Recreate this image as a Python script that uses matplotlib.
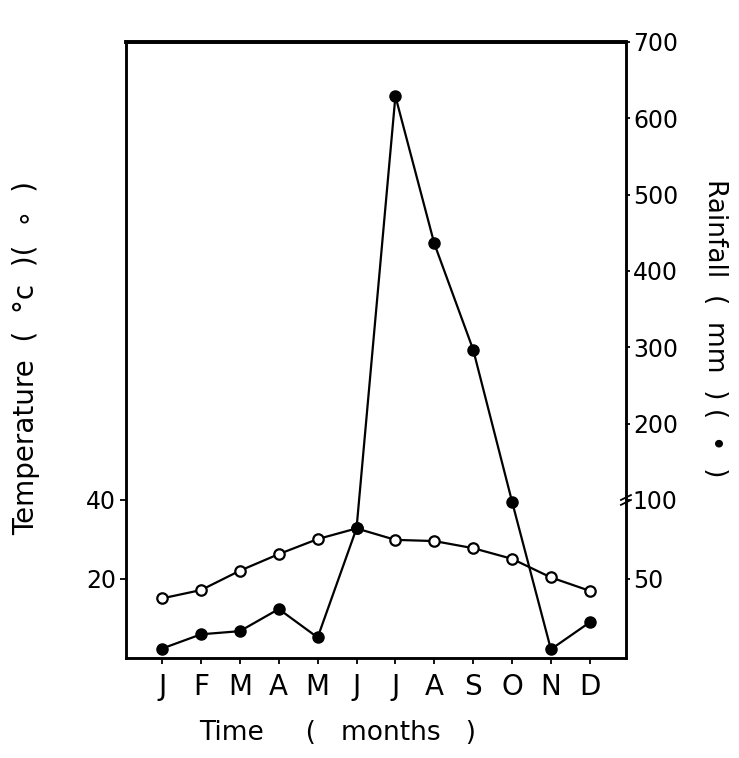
import matplotlib
matplotlib.use("Agg")
import matplotlib.pyplot as plt
import numpy as np

# monthly climate data
months = ["J", "F", "M", "A", "M", "J", "J", "A", "S", "O", "N", "D"]
temperature = [15.1, 17.2, 22.1, 26.3, 30.1, 32.8, 29.9, 29.6, 27.8, 25.1, 20.4, 17.0]  # deg C, open circles
rainfall = [6, 15, 17, 31, 13, 82, 629, 436, 297, 99, 5.5, 22.6]  # mm, filled circles

temp_ticks = [20, 40]
rain_ticks = [50, 100, 200, 300, 400, 500, 600, 700]

# rainfall axis is broken at 100 mm: 0-100 lines up with 0-40 deg C,
# above 100 the scale is compressed
T_TOP = 155.9
K_UP = (T_TOP - 40) / 600.0


def rain_fwd(r):
    r = np.asarray(r, dtype=float)
    return np.where(r <= 100, 0.4 * r, 40 + (r - 100) * K_UP)


def rain_inv(t):
    t = np.asarray(t, dtype=float)
    return np.where(t <= 40, t / 0.4, 100 + (t - 40) / K_UP)


plt.rcParams["font.family"] = ["DejaVu Sans"]

fig = plt.figure(figsize=(7.39, 7.58), dpi=100)
ax = fig.add_axes([0.1705, 0.1319, 0.6765, 0.8127])
x = np.arange(len(months))

ax.plot(x, temperature, color="black", lw=1.6, marker="o", ms=7.5,
        mfc="white", mec="black", mew=1.6, zorder=3)
ax.set_xlim(-0.93, 11.93)
ax.set_ylim(0, T_TOP)
ax.set_yticks(temp_ticks)
ax.set_yticklabels([str(t) for t in temp_ticks], fontsize=17)
ax.set_xticks(x)
ax.set_xticklabels(months, fontsize=20)
ax.tick_params(axis="x", direction="out", length=4, width=1.3, pad=7)
ax.tick_params(axis="y", direction="out", length=4, width=1.3, pad=3)
for side, sp in ax.spines.items():
    sp.set_linewidth(1.8)
ax.spines["top"].set_linewidth(2.6)

ax.set_xlabel("Time     (   months   )", fontsize=19)
ax.xaxis.set_label_coords(0.424, -0.1)
ax.set_ylabel("Temperature  (  °c  )(  ∘  )", fontsize=20)
ax.yaxis.set_label_coords(-0.172, 0.487)

ax2 = ax.twinx()
ax2.set_yscale("function", functions=(rain_fwd, rain_inv))
ax2.set_ylim(0, 700)
ax2.plot(x, rainfall, color="black", lw=1.6, marker="o", ms=8,
         mfc="black", mec="black", zorder=4)
ax2.set_yticks(rain_ticks)
ax2.set_yticklabels([str(r) for r in rain_ticks], fontsize=17)
ax2.yaxis.set_minor_locator(matplotlib.ticker.NullLocator())
ax2.tick_params(axis="y", direction="out", length=3, width=1.3, pad=2)
for sp in ax2.spines.values():
    sp.set_linewidth(1.8)
ax2.spines["top"].set_linewidth(2.6)
ax2.set_ylabel("Rainfall  (  mm  ) (  •  )", fontsize=19, rotation=-90, va="center")
ax2.yaxis.set_label_coords(1.178, 0.536)

# break mark on the rainfall axis at 100 mm
y100 = float(rain_fwd(100)) / T_TOP
for dy in (-0.004, 0.004):
    ax2.plot([0.99, 1.01], [y100 + dy - 0.004, y100 + dy + 0.004],
             transform=ax2.transAxes, color="black", lw=1.3, clip_on=False)

fig.savefig("out.png", dpi=100)
